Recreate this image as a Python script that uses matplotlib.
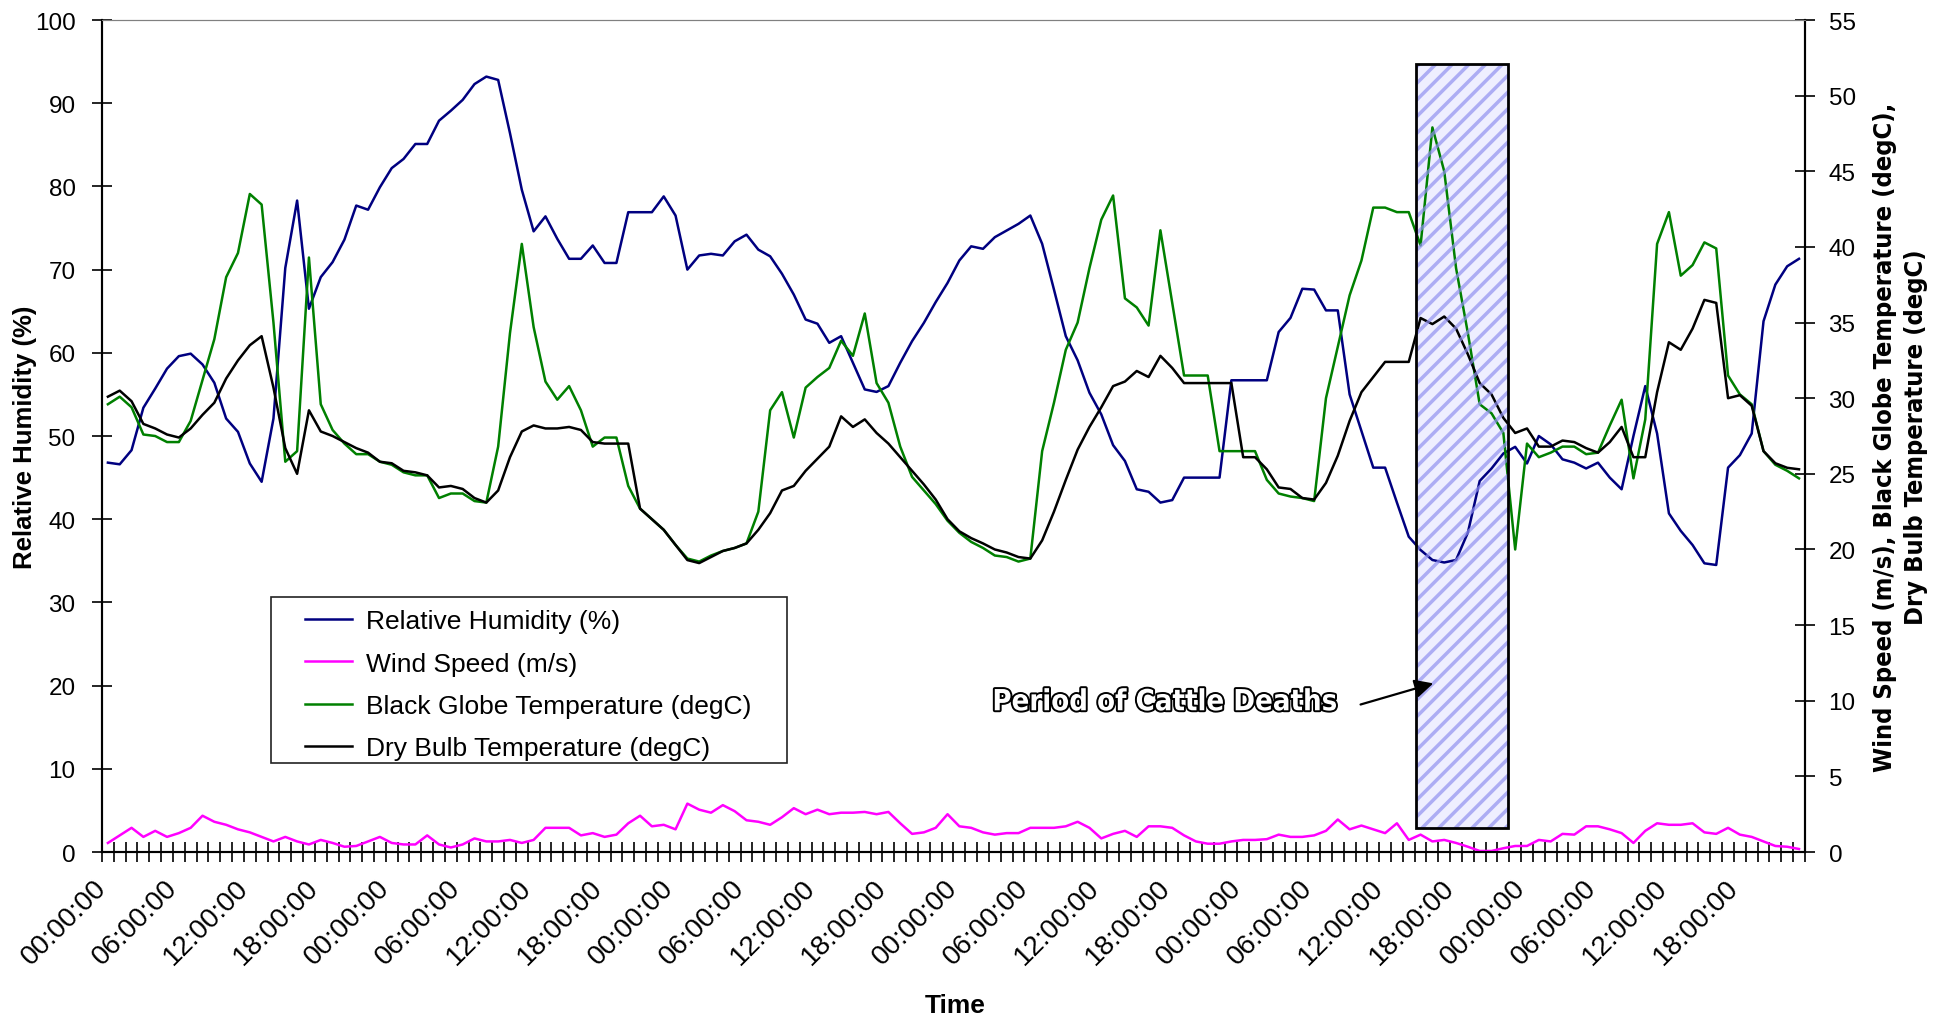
import numpy as np
import matplotlib
matplotlib.use("Agg")
import matplotlib.pyplot as plt
import matplotlib.patheffects as pe
import matplotlib.transforms as mtransforms
from matplotlib.patches import Rectangle
from matplotlib import font_manager
from matplotlib.font_manager import FontProperties

plt.rcParams["font.family"] = ["Liberation Sans", "DejaVu Sans"]
plt.rcParams["hatch.linewidth"] = 2.5

# Hourly station readings over six days (index = hours from first midnight)
rel_humidity = [
    46.8, 46.6, 48.3, 53.4, 55.7, 58.1, 59.6, 59.9, 58.6, 56.4, 52.1, 50.5,
    46.7, 44.5, 52.1, 70.2, 78.3, 65.3, 69.1, 70.9, 73.6, 77.7, 77.2, 79.9,
    82.2, 83.3, 85.1, 85.1, 87.9, 89.1, 90.4, 92.3, 93.2, 92.8, 86.4, 79.6,
    74.6, 76.4, 73.7, 71.3, 71.3, 72.9, 70.8, 70.8, 76.9, 76.9, 76.9, 78.8,
    76.5, 70.0, 71.7, 71.9, 71.7, 73.4, 74.2, 72.4, 71.6, 69.5, 67.0, 64.0,
    63.5, 61.2, 62.0, 58.8, 55.6, 55.3, 56.0, 58.8, 61.4, 63.6, 66.1, 68.4,
    71.1, 72.8, 72.5, 73.9, 74.7, 75.5, 76.5, 73.1, 67.6, 62.0, 59.1, 55.2,
    52.6, 48.9, 47.0, 43.6, 43.3, 42.0, 42.3, 45.0, 45.0, 45.0, 45.0, 56.7,
    56.7, 56.7, 56.7, 62.5, 64.2, 67.7, 67.6, 65.1, 65.1, 55.0, 50.6, 46.2,
    46.2, 42.0, 37.9, 36.3, 35.1, 34.8, 35.1, 38.4, 44.6, 46.1, 47.9, 48.7,
    46.7, 50.0, 49.0, 47.2, 46.8, 46.1, 46.8, 45.0, 43.6, 50.0, 56.0, 50.3,
    40.7, 38.6, 36.9, 34.7, 34.5, 46.2, 47.7, 50.3, 63.8, 68.2, 70.4, 71.3,
]
wind_speed = [
    0.6, 1.1, 1.6, 1.0, 1.4, 1.0, 1.25, 1.6, 2.4, 2.0, 1.8, 1.5,
    1.3, 1.0, 0.7, 1.0, 0.7, 0.5, 0.8, 0.6, 0.35, 0.4, 0.7, 1.0,
    0.6, 0.5, 0.5, 1.1, 0.5, 0.3, 0.5, 0.9, 0.7, 0.7, 0.8, 0.6,
    0.8, 1.6, 1.6, 1.6, 1.1, 1.25, 1.0, 1.15, 1.9, 2.4, 1.7, 1.8,
    1.5, 3.2, 2.8, 2.6, 3.1, 2.7, 2.1, 2.0, 1.8, 2.3, 2.9, 2.5,
    2.8, 2.5, 2.6, 2.6, 2.65, 2.5, 2.65, 1.9, 1.2, 1.3, 1.6, 2.5,
    1.7, 1.6, 1.3, 1.15, 1.25, 1.25, 1.6, 1.6, 1.6, 1.7, 2.0, 1.6,
    0.9, 1.2, 1.4, 1.0, 1.7, 1.7, 1.6, 1.1, 0.7, 0.55, 0.55, 0.7,
    0.8, 0.8, 0.85, 1.15, 1.0, 1.0, 1.1, 1.4, 2.15, 1.5, 1.75, 1.5,
    1.25, 1.9, 0.8, 1.15, 0.7, 0.8, 0.6, 0.35, 0.07, 0.07, 0.25, 0.4,
    0.4, 0.8, 0.7, 1.2, 1.15, 1.7, 1.7, 1.5, 1.25, 0.6, 1.4, 1.9,
    1.8, 1.8, 1.9, 1.3, 1.2, 1.6, 1.15, 1.0, 0.7, 0.4, 0.35, 0.2,
]
globe_temp = [
    29.6, 30.1, 29.4, 27.6, 27.5, 27.1, 27.1, 28.5, 31.2, 33.9, 38.0, 39.6,
    43.5, 42.8, 35.0, 25.8, 26.5, 39.3, 29.6, 27.9, 27.0, 26.3, 26.3, 25.8,
    25.6, 25.1, 24.9, 24.9, 23.4, 23.7, 23.7, 23.2, 23.1, 26.8, 34.3, 40.2,
    34.7, 31.1, 29.9, 30.8, 29.2, 26.8, 27.4, 27.4, 24.2, 22.7, 22.0, 21.3,
    20.3, 19.4, 19.2, 19.6, 19.9, 20.1, 20.4, 22.5, 29.2, 30.4, 27.4, 30.7,
    31.4, 32.0, 33.8, 32.8, 35.6, 31.0, 29.7, 26.8, 24.8, 23.9, 23.0, 21.9,
    21.1, 20.5, 20.1, 19.6, 19.5, 19.2, 19.4, 26.5, 29.7, 33.2, 35.0, 38.6,
    41.8, 43.4, 36.6, 36.0, 34.8, 41.1, 36.3, 31.5, 31.5, 31.5, 26.5, 26.5,
    26.5, 26.5, 24.6, 23.7, 23.5, 23.4, 23.2, 30.0, 33.4, 36.8, 39.1, 42.6,
    42.6, 42.3, 42.3, 40.1, 47.9, 45.0, 38.6, 34.3, 29.6, 29.0, 27.7, 20.0,
    27.0, 26.1, 26.4, 26.8, 26.8, 26.3, 26.4, 28.2, 29.9, 24.7, 28.6, 40.2,
    42.3, 38.1, 38.8, 40.3, 39.9, 31.5, 30.25, 29.6, 26.5, 25.6, 25.2, 24.7,
]
dry_bulb = [
    30.1, 30.5, 29.8, 28.3, 28.0, 27.6, 27.4, 28.0, 28.9, 29.7, 31.3, 32.5,
    33.5, 34.1, 30.7, 26.7, 25.0, 29.2, 27.8, 27.5, 27.1, 26.7, 26.4, 25.8,
    25.7, 25.2, 25.1, 24.9, 24.1, 24.2, 24.0, 23.4, 23.1, 23.9, 26.1, 27.8,
    28.2, 28.0, 28.0, 28.1, 27.9, 27.1, 27.0, 27.0, 27.0, 22.7, 22.0, 21.3,
    20.3, 19.3, 19.1, 19.5, 19.9, 20.1, 20.4, 21.3, 22.4, 23.9, 24.2, 25.2,
    26.0, 26.8, 28.8, 28.1, 28.6, 27.7, 27.0, 26.1, 25.2, 24.3, 23.3, 22.0,
    21.2, 20.75, 20.4, 20.0, 19.8, 19.5, 19.4, 20.6, 22.5, 24.6, 26.6, 28.1,
    29.4, 30.8, 31.1, 31.8, 31.4, 32.8, 32.0, 31.0, 31.0, 31.0, 31.0, 31.0,
    26.1, 26.1, 25.3, 24.1, 24.0, 23.4, 23.3, 24.4, 26.2, 28.5, 30.4, 31.4,
    32.4, 32.4, 32.4, 35.3, 34.9, 35.4, 34.6, 32.9, 31.0, 30.25, 28.7, 27.7,
    28.0, 26.8, 26.8, 27.2, 27.1, 26.7, 26.4, 27.1, 28.1, 26.1, 26.1, 30.4,
    33.7, 33.2, 34.6, 36.5, 36.3, 30.0, 30.2, 29.5, 26.5, 25.7, 25.4, 25.3,
]
time_labels = ["00:00:00", "06:00:00", "12:00:00", "18:00:00"] * 6
series_names = ["Relative Humidity (%)", "Wind Speed (m/s)",
                "Black Globe Temperature (degC)", "Dry Bulb Temperature (degC)"]

# shaded window marking the deaths (hour index, right-axis units)
deaths_hours = (110.6, 118.4)
deaths_range = (1.6, 52.1)

hours = np.arange(len(rel_humidity))


def condensed_bold():
    """Pick an installed bold condensed/narrow sans face, else plain bold Arial-alike."""
    for f in font_manager.fontManager.ttflist:
        narrowish = ("Narrow" in f.name or "Condensed" in f.name
                     or f.stretch in ("condensed", "semi-condensed", "extra-condensed"))
        if narrowish and f.weight in ("bold", 700) and "Serif" not in f.name and "Mono" not in f.name:
            return FontProperties(fname=f.fname)
    return FontProperties(family="Liberation Sans", weight="bold")


fig = plt.figure(figsize=(19.5, 10.2), dpi=100)
ax = fig.add_axes([0.0523, 0.1637, 0.8733, 0.8157])
ax2 = ax.twinx()

h_rh, = ax.plot(hours, rel_humidity, color="#000080", lw=1.8)
h_ws, = ax2.plot(hours, wind_speed, color="#FF00FF", lw=1.8)
h_bg, = ax2.plot(hours, globe_temp, color="#008000", lw=1.8)
h_db, = ax2.plot(hours, dry_bulb, color="black", lw=1.8)

ax.set_xlim(-0.5, len(hours) - 0.5)
ax.set_ylim(0, 100)
ax2.set_ylim(0, 55)
ax.set_yticks(np.arange(0, 101, 10))
ax2.set_yticks(np.arange(0, 56, 5))

ax.set_xticks(hours[::6])
ax.set_xticklabels(time_labels, rotation=45, ha="right", rotation_mode="anchor", fontsize=20)
ax.set_xticks(np.arange(-0.5, len(hours), 1), minor=True)
ax.tick_params(axis="x", which="major", length=0, pad=16)
ax.tick_params(axis="x", which="minor", direction="inout", length=14, width=1.2)
ax.tick_params(axis="y", direction="inout", length=14, width=1.2, labelsize=17.5, pad=12)
ax2.tick_params(axis="y", direction="inout", length=14, width=1.2, labelsize=17.5, pad=10)
shift = mtransforms.ScaledTranslation(-0.15, 0, fig.dpi_scale_trans)
for lbl in ax.get_xticklabels():
    lbl.set_transform(lbl.get_transform() + shift)

for a in (ax, ax2):
    a.spines["top"].set_color("#808080")
    for side in ("left", "right", "bottom"):
        a.spines[side].set_linewidth(1.5)

ax.set_xlabel("Time", fontsize=19, fontweight="bold")
ax.xaxis.set_label_coords(0.501, -0.17)
ax.set_ylabel("Relative Humidity (%)", fontsize=18.5, fontweight="bold")
ax.yaxis.set_label_coords(-0.038, 0.5)
narrow = condensed_bold()
right_label = ax2.set_ylabel(
    "Wind Speed (m/s), Black Globe Temperature (degC),\nDry Bulb Temperature (degC)",
    fontproperties=narrow, fontsize=18, linespacing=1.35)
ax2.yaxis.set_label_coords(1.040, 0.5)

# period of cattle deaths
x0, x1 = deaths_hours
y0, y1 = deaths_range
ax.add_patch(Rectangle((x0, y0 / 0.55), x1 - x0, (y1 - y0) / 0.55, facecolor="#eeeeff",
                       lw=0, zorder=0.5))
ax2.add_patch(Rectangle((x0, y0), x1 - x0, y1 - y0, facecolor="none", hatch="//",
                        edgecolor="#9090f0", lw=0, alpha=0.7, zorder=4))
ax2.add_patch(Rectangle((x0, y0), x1 - x0, y1 - y0, fill=False, edgecolor="black",
                        lw=2, zorder=4.2))
ax2.annotate("", xy=(112.3, 11.2), xytext=(105.7, 9.7),
             arrowprops=dict(arrowstyle="-|>", color="black", lw=1.6, mutation_scale=28),
             zorder=5)
deaths_label = ax2.text(89.4, 9.9, "Period of Cattle Deaths", ha="center", va="center",
                        fontproperties=narrow, fontsize=24, color="white",
                        path_effects=[pe.withStroke(linewidth=2.8, foreground="black")],
                        zorder=5)

# legend with a plain square frame
ax2.add_patch(Rectangle((0.0992, 0.107), 0.303, 0.1995, transform=ax2.transAxes,
                        facecolor="white", edgecolor="#222222", lw=1.2, zorder=4.8))
leg = ax2.legend([h_rh, h_ws, h_bg, h_db], series_names, loc="upper left",
                 bbox_to_anchor=(0.1192, 0.292), frameon=False, fontsize=19,
                 handlelength=1.8, handletextpad=0.5, labelspacing=0.7,
                 borderpad=0, borderaxespad=0)
leg.set_zorder(5)

# size the narrow-font texts to their printed lengths
renderer = fig.canvas.get_renderer()
w = deaths_label.get_window_extent(renderer).width
deaths_label.set_fontsize(deaths_label.get_fontsize() * 345 / w)
h = right_label.get_window_extent(renderer).height
right_label.set_fontsize(right_label.get_fontsize() * 670 / h)

fig.savefig("out.png", dpi=100)
